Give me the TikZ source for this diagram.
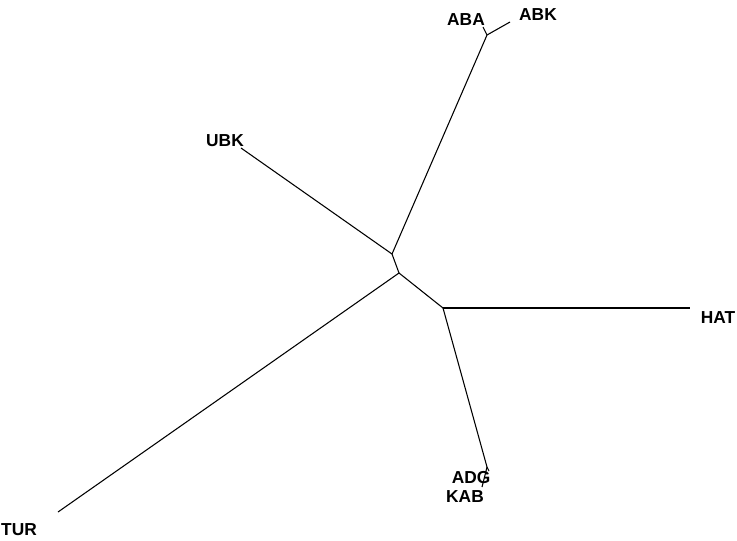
\documentclass[tikz,border=0pt]{standalone}
\usepackage{fontspec}
\setmainfont{Liberation Sans}
\begin{document}
\begin{tikzpicture}[x=0.75pt,y=-0.75pt,
  lbl/.style={font=\bfseries\fontsize{13}{15}\selectfont, inner sep=0pt, anchor=base},
  br/.style={line width=0.8pt, black}]
\path[use as bounding box] (0,0) rectangle (737,540);
\clip (0,0) rectangle (737,540);
% internal nodes
\coordinate (n1) at (392,254);
\coordinate (n2) at (399,273);
\coordinate (n3) at (443,308);
\coordinate (n4) at (487,35);
\coordinate (n5) at (487,467);
% leaf ends
\coordinate (aba) at (483,27);
\coordinate (abk) at (510,22);
\coordinate (ubk) at (241,148);
\coordinate (hat) at (690,308);
\coordinate (adg) at (489,471);
\coordinate (kab) at (482,487);
\coordinate (tur) at (58,512);
% branches
\draw[br] (n1) -- (n2);
\draw[br] (n2) -- (n3);
\draw[br] (n1) -- (ubk);
\draw[br] (n1) -- (n4);
\draw[br] (n4) -- (aba);
\draw[br] (n4) -- (abk);
\draw[br] (n2) -- (tur);
\draw[br] (n3) -- (hat);
\draw[br] (n3) -- (n5);
\draw[br] (n5) -- (adg);
\draw[br] (n5) -- (kab);
% labels
\node[lbl] (tABA) at (466,25) {ABA};
\node[lbl] (tABK) at (538,20) {ABK};
\node[lbl] (tUBK) at (225,146) {UBK};
\node[lbl] (tHAT) at (718,323) {HAT};
\node[lbl] (tADG) at (471,483) {ADG};
\node[lbl] (tKAB) at (465,502) {KAB};
\node[lbl] (tTUR) at (19,535) {TUR};
\end{tikzpicture}
\end{document}
